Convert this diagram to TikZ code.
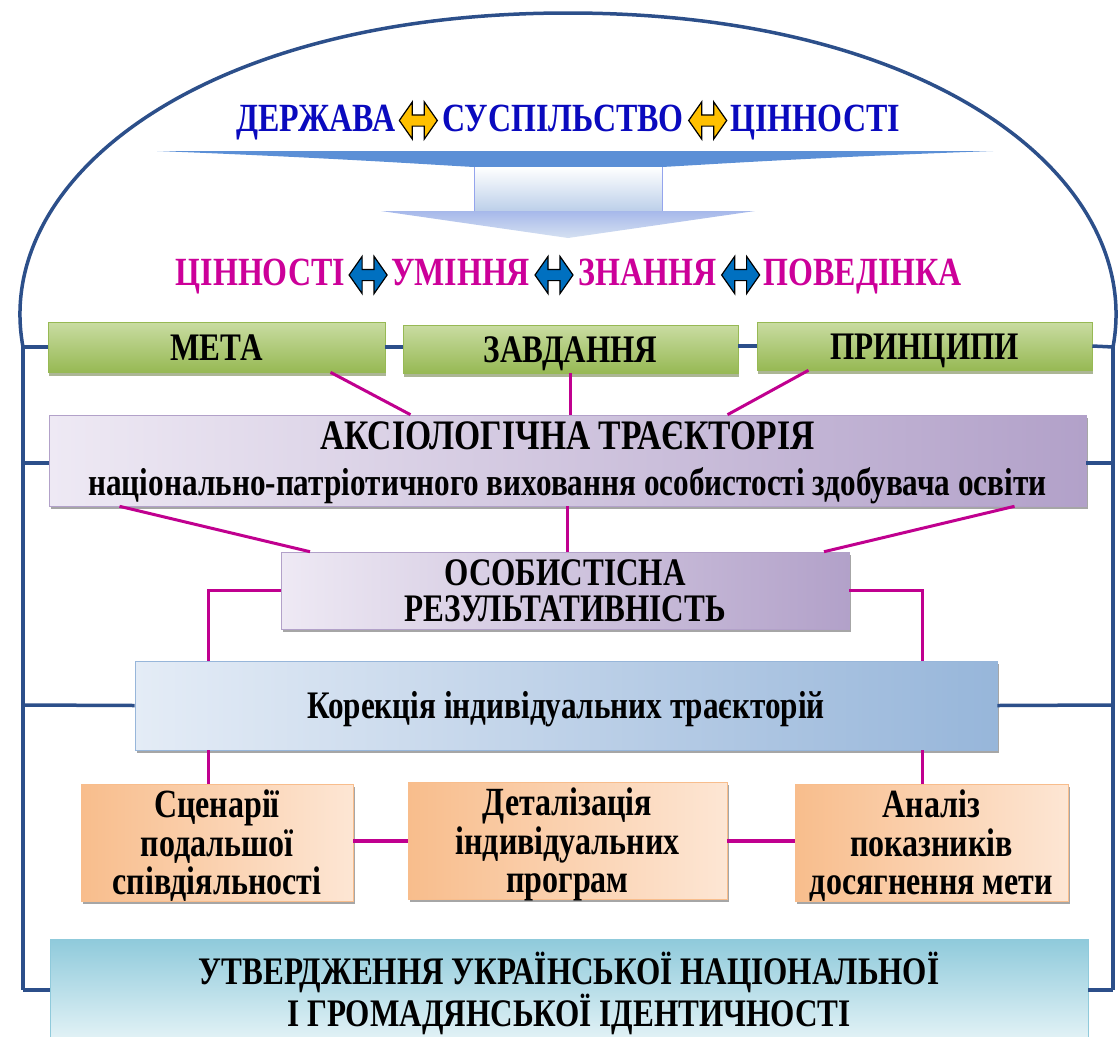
\documentclass[tikz,border=0pt]{standalone}
\usepackage{fontspec}
\setmainfont{Liberation Serif}[FakeStretch=0.8]
\usetikzlibrary{positioning, shadows, shapes.arrows}

\definecolor{framec}{HTML}{2C4F8A}
\definecolor{linkc}{HTML}{C0008F}
\definecolor{statec}{HTML}{0A0ABE}
\definecolor{valuec}{HTML}{CC0099}
\definecolor{yarrc}{HTML}{FFC000}
\definecolor{barrc}{HTML}{0070C0}
\definecolor{wedgec}{HTML}{5B8FD6}
\definecolor{shaftc}{HTML}{B9CDE8}
\definecolor{grntop}{HTML}{C9DCA2}
\definecolor{grnbot}{HTML}{97B954}
\definecolor{grnshd}{HTML}{5A6E2C}
\definecolor{purlt}{HTML}{EEE9F4}
\definecolor{purdk}{HTML}{B2A1C9}
\definecolor{bluelt}{HTML}{E4ECF6}
\definecolor{bluedk}{HTML}{97B6DA}
\definecolor{orglt}{HTML}{FDE6D4}
\definecolor{orgdk}{HTML}{F8BD8C}
\definecolor{cyandk}{HTML}{8FCADB}
\definecolor{cyanlt}{HTML}{E2F2F6}

\tikzset{
  frame/.style={draw=framec, line width=3.5pt},
  link/.style={draw=linkc, line width=3pt},
  toptext/.style={inner sep=0pt, text height=28pt, text depth=7pt,
    font=\bfseries\fontsize{40}{44}\selectfont},
  dblarr/.style={double arrow, draw=black, line width=1.2pt, fill=#1,
    inner xsep=0pt, inner ysep=5pt, minimum height=38pt,
    double arrow head extend=13pt, double arrow tip angle=110},
  boxshadow/.style={drop shadow={shadow xshift=2pt, shadow yshift=-3pt,
    fill=black, opacity=0.35}},
  greenbox/.style={top color=grntop, bottom color=grnbot, draw=grnbot,
    line width=0.6pt, inner sep=2pt, align=center,
    drop shadow={shadow xshift=1pt, shadow yshift=-4pt, fill=grnshd},
    text height=26pt, text depth=0pt,
    font=\bfseries\fontsize{39}{40}\selectfont},
  purplebox/.style={left color=purlt, right color=purdk, draw=purdk,
    line width=0.6pt, inner sep=2pt, align=center, boxshadow},
  bluebox/.style={left color=bluelt, right color=bluedk, draw=bluedk,
    line width=0.6pt, inner sep=2pt, align=center, boxshadow,
    text height=26pt, text depth=0pt,
    font=\bfseries\fontsize{39}{40}\selectfont},
  orangebox/.style={left color=orgdk, right color=orglt, draw=orgdk,
    line width=0.6pt, inner sep=2pt, align=center, boxshadow,
    minimum height=117pt, text depth=0pt,
    font=\bfseries\fontsize{40}{38.5}\selectfont},
  cyanbox/.style={top color=cyandk, bottom color=cyanlt, draw=cyandk,
    line width=0.6pt, inner sep=2pt, align=center, text depth=0pt,
    font=\bfseries\fontsize{39}{36}\selectfont}
}

\begin{document}
\begin{tikzpicture}[x=1pt, y=-1pt]
\useasboundingbox (0,0) rectangle (1118,1036);

% купол і рамка
\draw[frame] (23,347) .. controls (-8,180) and (200,13) .. (568,13)
  .. controls (936,13) and (1144,180) .. (1113,347);
\draw[frame] (23,347) -- (23,990);
\draw[frame] (1113,347) -- (1113,990);
\coordinate (fl1) at (23,347);
\coordinate (fl2) at (23,463);
\coordinate (fl3) at (23,705);
\coordinate (fl4) at (23,990);
\coordinate (fr1) at (1113,347);
\coordinate (fr2) at (1113,463);
\coordinate (fr3) at (1113,705);
\coordinate (fr4) at (1113,990);

% держава - суспільство - цінності
\node[toptext, text=statec, anchor=base] (sus) at (563,131) {СУСПІЛЬСТВО};
\node[dblarr=yarrc, left=4pt of sus] (ya1) {};
\node[toptext, text=statec, left=3pt of ya1] (der) {ДЕРЖАВА};
\node[dblarr=yarrc, right=4pt of sus] (ya2) {};
\node[toptext, text=statec, right=3pt of ya2] (cin) {ЦІННОСТІ};

% велика стрілка
\fill[wedgec] (157,151) -- (993,151) .. controls (800,158) and (700,165) .. (662,167)
  -- (474,167) .. controls (436,165) and (336,158) .. (157,151) -- cycle;
\shade[top color=white, bottom color=shaftc] (474,167) rectangle (662,213);
\draw[shaftc!80!blue, line width=1pt] (474,167) -- (474,213) (662,167) -- (662,213);
\shade[top color=shaftc!90!blue, bottom color=shaftc!60!white] (381,211) -- (755,211) -- (568,238) -- cycle;

% цінності - уміння - знання - поведінка
\node[dblarr=barrc] (ba2) at (554,275) {};
\node[toptext, text=valuec, left=4pt of ba2] (umi) {УМІННЯ};
\node[dblarr=barrc, left=3pt of umi] (ba1) {};
\node[toptext, text=valuec, left=3pt of ba1] (val) {ЦІННОСТІ};
\node[toptext, text=valuec, right=5pt of ba2] (zna) {ЗНАННЯ};
\node[dblarr=barrc, right=4pt of zna] (ba3) {};
\node[toptext, text=valuec, right=3pt of ba3] (pov) {ПОВЕДІНКА};

% блоки
\node[greenbox, minimum width=337pt, minimum height=50pt] (meta) at (216.5,347) {МЕТА};
\node[greenbox, minimum width=335pt, minimum height=48pt] (zavd) at (570.5,349) {ЗАВДАННЯ};
\node[greenbox, minimum width=335pt, minimum height=48pt] (princ) at (924.5,346) {ПРИНЦИПИ};

\node[purplebox, minimum width=1037pt, minimum height=91pt, text depth=4pt,
  font=\bfseries\fontsize{39}{46}\selectfont] (aks) at (567.5,460.5)
  {{\fontsize{42}{46}\selectfont АКСІОЛОГІЧНА ТРАЄКТОРІЯ}\\
   національно-патріотичного виховання особистості здобувача освіти};
\node[purplebox, minimum width=568pt, minimum height=77pt, text depth=0pt,
  font=\bfseries\fontsize{39}{36}\selectfont] (osob) at (565,590.5)
  {ОСОБИСТІСНА\\РЕЗУЛЬТАТИВНІСТЬ};
\node[bluebox, minimum width=862pt, minimum height=89pt] (corr) at (566,705.5)
  {Корекція індивідуальних траєкторій};

\node[orangebox, minimum width=272pt] (scen) at (217,842.5) {Сценарії\\подальшої\\співдіяльності};
\node[orangebox, minimum width=319pt] (detal) at (567.5,840.5) {Деталізація\\індивідуальних\\програм};
\node[orangebox, minimum width=273pt] (anal) at (931.5,842.5) {Аналіз\\показників\\досягнення мети};

\node[cyanbox, minimum width=1038pt, minimum height=100pt] (utv) at (569,989)
  {УТВЕРДЖЕННЯ УКРАЇНСЬКОЇ НАЦІОНАЛЬНОЇ\\І ГРОМАДЯНСЬКОЇ ІДЕНТИЧНОСТІ};

% лінії рамки до блоків
\draw[frame] (fl1) -- (meta.west);
\draw[frame] (meta.east) -- (meta.east -| zavd.west);
\draw[frame] (zavd.east |- princ.west) -- (princ.west);
\draw[frame] (princ.east) -- (fr1);
\draw[frame] (fl2) -- (fl2 -| aks.west);
\draw[frame] (aks.east |- fr2) -- (fr2);
\draw[frame] (fl3) -- (corr.west);
\draw[frame] (corr.east) -- (fr3);
\draw[frame] (fl4) -- (fl4 -| utv.west);
\draw[frame] (utv.east |- fr4) -- (fr4);

% зв'язки
\draw[link] ([xshift=114pt]meta.south) -- ([xshift=-157pt]aks.north);
\draw[link] (zavd.south) -- (zavd.south |- aks.north);
\draw[link] ([xshift=-116pt]princ.south) -- ([xshift=160pt]aks.north);
\draw[link] ([xshift=-448pt]aks.south) -- ([xshift=-255pt]osob.north);
\draw[link] (aks.south) -- (aks.south |- osob.north);
\draw[link] ([xshift=447pt]aks.south) -- ([xshift=259pt]osob.north);
\draw[link] (osob.west) -| ([xshift=-358pt]corr.north);
\draw[link] (osob.east) -| ([xshift=356pt]corr.north);
\draw[link] ([xshift=-358pt]corr.south) -- ([xshift=-9pt]scen.north);
\draw[link] ([xshift=356pt]corr.south) -- ([xshift=-9.5pt]anal.north);
\draw[link, line width=4pt] (detal.west -| scen.east) -- (detal.west);
\draw[link, line width=4pt] (detal.east) -- (detal.east -| anal.west);
\end{tikzpicture}
\end{document}
